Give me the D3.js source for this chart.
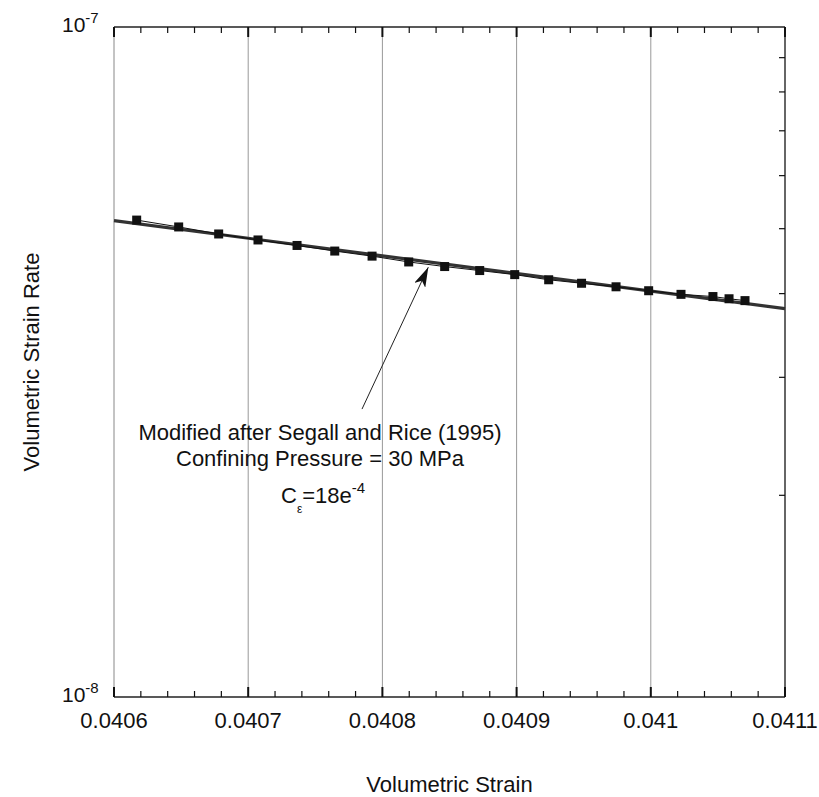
<!DOCTYPE html>
<html>
<head>
<meta charset="utf-8">
<script src="https://cdn.jsdelivr.net/npm/d3@7"></script>
<style>
  body { margin: 0; background: #fff; }
  text { font-family: "Liberation Sans", Arial, sans-serif; fill: #111; }
</style>
</head>
<body>
<div id="chart"></div>
<script>
const width = 819;
const height = 797;
const margin = { top: 27, right: 34, bottom: 100, left: 114 };

// measured points (volumetric strain, volumetric strain rate)
const strain = [0.0406169, 0.0406482, 0.0406780, 0.0407073, 0.0407364, 0.0407645, 0.0407923,
    0.0408196, 0.0408464, 0.0408725, 0.0408986, 0.0409239, 0.0409484, 0.0409741, 0.0409984,
    0.0410225, 0.0410463, 0.0410583, 0.0410702];
const strainRate = [5.15e-8, 5.03e-8, 4.91e-8, 4.81e-8, 4.72e-8, 4.63e-8, 4.55e-8,
    4.46e-8, 4.39e-8, 4.33e-8, 4.27e-8, 4.195e-8, 4.145e-8, 4.095e-8, 4.04e-8,
    3.99e-8, 3.96e-8, 3.93e-8, 3.905e-8];

// fitted line end points
const fitStrain = [0.0406, 0.0411];
const fitRate = [5.14e-8, 3.80e-8];

const xTicks = [0.0406, 0.0407, 0.0408, 0.0409, 0.041, 0.0411];
const xTickLabels = ['0.0406', '0.0407', '0.0408', '0.0409', '0.041', '0.0411'];
const yMinorTicks = [2e-8, 3e-8, 4e-8, 5e-8, 6e-8, 7e-8, 8e-8, 9e-8];

const noteLines = ['Modified after Segall and Rice (1995)', 'Confining Pressure = 30 MPa'];
const arrowFrom = [0.0407848, 2.69e-8];
const arrowTo = [0.0408342, 4.38e-8];

const svg = d3.select('#chart').append('svg')
    .attr('width', width)
    .attr('height', height);

const x = d3.scaleLinear()
    .domain([0.0406, 0.0411])
    .range([margin.left, width - margin.right]);

const y = d3.scaleLog()
    .domain([1e-8, 1e-7])
    .range([height - margin.bottom, margin.top]);

const x0 = x.range()[0], x1 = x.range()[1];
const y0 = y.range()[0], y1 = y.range()[1];

// vertical grid
svg.append('g')
    .selectAll('line')
    .data(xTicks.slice(1, -1))
    .join('line')
    .attr('x1', d => x(d)).attr('x2', d => x(d))
    .attr('y1', y0).attr('y2', y1)
    .attr('stroke', '#999')
    .attr('stroke-width', 1);

// frame
svg.append('line').attr('x1', x0).attr('x2', x0).attr('y1', y0).attr('y2', y1)
    .attr('stroke', '#888').attr('stroke-width', 1);
svg.append('line').attr('x1', x1).attr('x2', x1).attr('y1', y0).attr('y2', y1)
    .attr('stroke', '#666').attr('stroke-width', 2);
svg.append('line').attr('x1', x0).attr('x2', x1).attr('y1', y1).attr('y2', y1)
    .attr('stroke', '#222').attr('stroke-width', 1.3);
svg.append('line').attr('x1', x0).attr('x2', x1).attr('y1', y0).attr('y2', y0)
    .attr('stroke', '#222').attr('stroke-width', 1.5);

// x ticks on bottom and top, pointing inward
const xMinor = [];
for (let i = 0; i < xTicks.length - 1; i++) {
    for (let k = 1; k < 5; k++) xMinor.push(xTicks[i] + (xTicks[i + 1] - xTicks[i]) * k / 5);
}
const tickG = svg.append('g').attr('stroke', '#111');
[[y0, -1], [y1, 1]].forEach(([base, dir]) => {
    tickG.selectAll(null).data(xTicks).join('line')
        .attr('x1', d => x(d)).attr('x2', d => x(d))
        .attr('y1', base).attr('y2', base + dir * 10)
        .attr('stroke-width', 2);
    tickG.selectAll(null).data(xMinor).join('line')
        .attr('x1', d => x(d)).attr('x2', d => x(d))
        .attr('y1', base).attr('y2', base + dir * 6)
        .attr('stroke-width', 1.2);
});

// y minor ticks on right side
tickG.selectAll(null).data(yMinorTicks).join('line')
    .attr('x1', x1).attr('x2', x1 - 6)
    .attr('y1', d => y(d)).attr('y2', d => y(d))
    .attr('stroke-width', 1.2);

// x tick labels
svg.append('g')
    .selectAll('text')
    .data(xTicks)
    .join('text')
    .attr('x', d => x(d))
    .attr('y', y0 + 31)
    .attr('text-anchor', 'middle')
    .style('font-size', '22px')
    .text((d, i) => xTickLabels[i]);

// y labels 10^-8 and 10^-7
[[1e-8, '-8'], [1e-7, '-7']].forEach(([v, exp]) => {
    const t = svg.append('text')
        .attr('x', x0 - 52)
        .attr('y', y(v) + 5)
        .style('font-size', '21px');
    t.append('tspan').text('10');
    t.append('tspan').attr('dy', -9).style('font-size', '15px').text(exp);
});

// axis titles
svg.append('text')
    .attr('x', x(0.04085))
    .attr('y', 792)
    .attr('text-anchor', 'middle')
    .style('font-size', '22px')
    .text('Volumetric Strain');

svg.append('text')
    .attr('transform', `translate(39, ${(y0 + y1) / 2}) rotate(-90)`)
    .attr('text-anchor', 'middle')
    .style('font-size', '22px')
    .text('Volumetric Strain Rate');

// fitted line
const pts = strain.map((d, i) => [d, strainRate[i]]);
const fit = fitStrain.map((d, i) => [d, fitRate[i]]);
const line = d3.line().x(d => x(d[0])).y(d => y(d[1]));

svg.append('path')
    .datum(fit)
    .attr('d', line)
    .attr('fill', 'none')
    .attr('stroke', '#333')
    .attr('stroke-width', 3.2);

// data line and markers
svg.append('path')
    .datum(pts)
    .attr('d', line)
    .attr('fill', 'none')
    .attr('stroke', '#111')
    .attr('stroke-width', 1);

svg.append('g')
    .selectAll('rect')
    .data(pts)
    .join('rect')
    .attr('x', d => x(d[0]) - 4.5)
    .attr('y', d => y(d[1]) - 4.5)
    .attr('width', 9)
    .attr('height', 9)
    .attr('fill', '#111');

// annotation arrow
svg.append('defs').append('marker')
    .attr('id', 'head')
    .attr('viewBox', '0 0 20 12')
    .attr('refX', 20).attr('refY', 6)
    .attr('markerWidth', 20).attr('markerHeight', 12)
    .attr('markerUnits', 'userSpaceOnUse')
    .attr('orient', 'auto')
    .append('path')
    .attr('d', 'M0,0 L20,6 L0,12 L5,6 Z')
    .attr('fill', '#111');

svg.append('line')
    .attr('x1', x(arrowFrom[0])).attr('y1', y(arrowFrom[1]))
    .attr('x2', x(arrowTo[0])).attr('y2', y(arrowTo[1]))
    .attr('stroke', '#222')
    .attr('stroke-width', 1)
    .attr('marker-end', 'url(#head)');

// note text
const noteX = 320;
svg.append('g')
    .selectAll('text')
    .data(noteLines)
    .join('text')
    .attr('x', noteX)
    .attr('y', (d, i) => 440 + i * 26)
    .attr('text-anchor', 'middle')
    .style('font-size', '22px')
    .text(d => d);

const ce = svg.append('text')
    .attr('x', 281)
    .attr('y', 503)
    .style('font-size', '22px');
ce.append('tspan').text('C');
ce.append('tspan').attr('dy', 10).style('font-size', '12px').text('\u03b5');
ce.append('tspan').attr('dy', -10).text('=18e');
ce.append('tspan').attr('dy', -10).style('font-size', '15px').text('-4');
</script>
</body>
</html>
